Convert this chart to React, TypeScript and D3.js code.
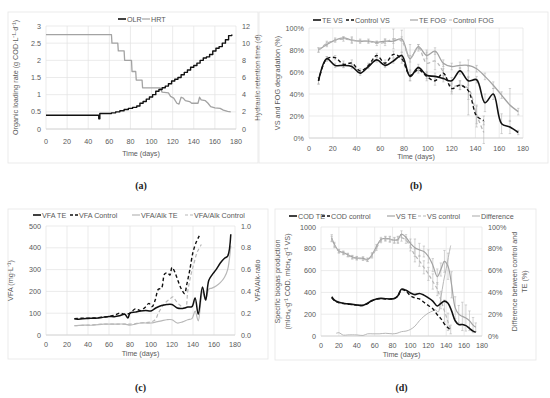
import * as d3 from 'd3';

// ---- data ----
// (a) OLR / HRT
const olrDays = [0, 50, 51, 62, 66, 70, 74, 78, 82, 86, 89, 92, 95, 98, 101, 104, 107, 110, 113, 116, 119, 122, 125, 128, 131, 134, 137, 140, 143, 146, 149, 152, 155, 158, 161, 164, 167, 170, 173, 176];
const olrValues = [0.4, 0.3, 0.45, 0.47, 0.5, 0.53, 0.57, 0.6, 0.63, 0.67, 0.75, 0.8, 0.87, 0.93, 1.0, 1.1, 1.15, 1.2, 1.25, 1.32, 1.4, 1.45, 1.5, 1.58, 1.65, 1.72, 1.8, 1.85, 1.92, 2.0, 2.07, 2.1, 2.17, 2.27, 2.35, 2.4, 2.5, 2.6, 2.72, 2.75];
const hrtDays = [0, 62, 62.5, 68, 68.5, 74, 74.5, 81, 81.5, 85, 85.5, 91, 91.5, 108, 110, 116, 118, 121, 124, 126, 128, 130, 132, 136, 138, 144, 145.5, 147, 151, 153.5, 156, 160, 165, 168, 172, 175];
const hrtValues = [11, 11, 10, 10, 9.1, 9.1, 8, 8, 6.7, 6.7, 5.7, 5.7, 4.8, 4.8, 4.3, 4.2, 3.8, 3.6, 3.0, 2.9, 3.7, 3.6, 3.3, 3.2, 3.0, 3.0, 3.7, 3.4, 3.3, 3.0, 2.6, 2.45, 2.4, 2.2, 2.05, 2.0];
const aLeftTicks = [0, 0.5, 1, 1.5, 2, 2.5, 3];
const aRightTicks = [0, 2, 4, 6, 8, 10, 12];

// (b) degradation
const bDays = [8, 15, 22, 29, 36, 43, 50, 57, 64, 71, 78, 85, 92, 99, 106, 113, 120, 127, 134, 141, 148, 155, 162, 169, 176];
const teVS = [52, 72, 66, 66, 65, 59, 65, 71, 66, 70, 75, 56, 64, 57, 56, 54, 52, 61, 52, 53, 32, 40, 13, 10, 5];
const teVSErr = [3, 2, 2, 2, 2, 2, 2, 2, 2, 2, 3, 4, 3, 3, 3, 3, 3, 3, 4, 3, 8, 5, 9, 6, 2];
const teFOG = [80, 85, 89, 91, 89, 88, 88, 87, 88, 88, 90, 72, 83, 75, 79, 68, 65, 66, 66, 63, 56, 48, 39, 30, 24];
const teFOGErr = [2, 2, 1, 1, 2, 1, 1, 1, 2, 2, 2, 3, 2, 3, 3, 3, 3, 3, 5, 3, 3, 3, 3, 15, 3];
const bCtrlDays = [8, 15, 22, 29, 36, 43, 50, 57, 64, 71, 78, 85, 92, 99, 106, 113, 120, 127, 134, 141, 147];
const ctrlVS = [52, 72, 73, 67, 68, 61, 66, 75, 68, 76, 72, 57, 62, 56, 52, 59, 45, 48, 43, 20, 16];
const ctrlVSErr = [3, 2, 2, 3, 3, 2, 2, 2, 3, 3, 4, 5, 3, 4, 4, 4, 5, 4, 22, 10, 4];
const ctrlFOG = [80, 86, 89, 90, 89, 88, 88, 86, 87, 90, 88, 73, 82, 68, 70, 60, 47, 48, 45, 21, 5];
const ctrlFOGErr = [2, 2, 2, 2, 3, 2, 2, 2, 3, 9, 10, 12, 3, 12, 8, 7, 5, 4, 10, 8, 10];
const bTicks = [0, 20, 40, 60, 80, 100];

// (c) VFA
const vfaTEDays = [27, 30, 35, 40, 45, 50, 55, 60, 65, 70, 75, 78, 80, 85, 90, 95, 100, 105, 110, 115, 120, 125, 130, 135, 139, 142, 145, 149, 152, 155, 158, 162, 166, 170, 173, 176];
const vfaTE = [74, 72, 75, 76, 77, 78, 82, 85, 84, 88, 95, 78, 100, 105, 110, 112, 110, 125, 135, 140, 140, 124, 122, 128, 130, 170, 95, 220, 160, 250, 275, 300, 330, 352, 362, 462];
const vfaCtrlDays = [27, 35, 45, 55, 60, 65, 70, 75, 80, 85, 90, 95, 98, 101, 104, 107, 110, 113, 116, 118, 120, 123, 126, 129, 132, 134, 137, 140, 143, 146];
const vfaCtrl = [75, 77, 78, 82, 85, 90, 100, 95, 100, 120, 112, 130, 145, 130, 160, 210, 215, 280, 285, 275, 310, 285, 245, 210, 190, 230, 300, 380, 425, 455];
const ratioTEDays = [27, 35, 45, 55, 65, 75, 80, 85, 90, 95, 100, 105, 110, 115, 120, 125, 130, 135, 139, 142, 145, 149, 152, 155, 158, 162, 166, 170, 173, 176];
const ratioTE = [0.085, 0.09, 0.09, 0.1, 0.1, 0.1, 0.09, 0.1, 0.11, 0.11, 0.11, 0.12, 0.13, 0.14, 0.14, 0.11, 0.12, 0.14, 0.15, 0.22, 0.13, 0.4, 0.32, 0.42, 0.43, 0.45, 0.48, 0.53, 0.6, 0.82];
const ratioCtrlDays = [27, 40, 55, 70, 80, 90, 100, 104, 107, 110, 114, 118, 121, 124, 128, 131, 133, 135, 138, 141, 144, 148];
const ratioCtrl = [0.085, 0.09, 0.1, 0.1, 0.1, 0.11, 0.12, 0.14, 0.2, 0.25, 0.3, 0.33, 0.35, 0.31, 0.27, 0.25, 0.25, 0.4, 0.55, 0.66, 0.76, 0.83];
const cLeftTicks = [0, 100, 200, 300, 400, 500];
const cRightTicks = [0, 0.2, 0.4, 0.6, 0.8, 1.0];

// (d) biogas
const dDays = [12, 15, 20, 25, 30, 35, 40, 47, 52, 57, 62, 67, 72, 77, 82, 86, 90, 95, 100, 105, 110, 115, 120, 125, 130, 134, 138, 142, 146, 150, 154, 158, 162, 166, 170, 173];
const codTE = [360, 330, 310, 300, 295, 290, 285, 282, 300, 325, 340, 345, 342, 340, 345, 370, 430, 420, 395, 380, 390, 375, 350, 320, 275, 300, 320, 300, 230, 140, 105, 105, 95, 70, 45, 35];
const vsTE = [900, 840, 780, 765, 745, 725, 715, 712, 700, 745, 820, 885, 895, 890, 880, 885, 935, 905, 850, 810, 790, 775, 730, 650, 545, 610, 685, 640, 470, 260, 200, 180, 165, 140, 100, 80];
const vsTEErr = [30, 20, 15, 15, 15, 15, 15, 15, 15, 20, 20, 20, 20, 25, 25, 30, 30, 25, 40, 80, 60, 50, 60, 60, 70, 60, 100, 120, 120, 100, 80, 130, 120, 90, 70, 40];
const dCtrlDays = [12, 15, 20, 25, 30, 35, 40, 47, 52, 57, 62, 67, 72, 77, 82, 86, 90, 95, 100, 105, 110, 115, 120, 125, 130, 134, 138, 142, 145];
const codCtrl = [350, 325, 305, 298, 292, 288, 283, 280, 298, 322, 338, 343, 340, 338, 343, 365, 425, 410, 370, 350, 340, 310, 280, 250, 195, 160, 110, 75, 55];
const vsCtrl = [890, 830, 775, 760, 740, 720, 712, 708, 698, 735, 805, 875, 890, 885, 875, 880, 900, 880, 820, 740, 690, 630, 570, 500, 430, 330, 230, 130, 60];
const vsCtrlErr = [25, 20, 15, 15, 15, 15, 15, 15, 15, 20, 20, 20, 20, 25, 25, 30, 30, 30, 40, 60, 50, 60, 60, 70, 60, 80, 100, 80, 40];
const diffDays = [17, 20, 25, 30, 40, 47, 52, 58, 65, 72, 80, 85, 90, 95, 100, 105, 110, 115, 120, 125, 128, 131, 134, 137, 140, 143, 145];
const diffValues = [2.5, 3, 0.8, 1, 1, 0.5, 2, 2, 2, 2.5, 2, 2.5, 4, 4.5, 6, 9, 14, 18, 21, 23, 24, 22, 35, 50, 62, 75, 83];
const dLeftTicks = [0, 200, 400, 600, 800, 1000];
const dRightTicks = [0, 20, 40, 60, 80, 100];

const dayTicks = [0, 20, 40, 60, 80, 100, 120, 140, 160, 180];

// ---- styling ----
const FONT = "'Liberation Sans Narrow', 'Arial Narrow', 'Liberation Sans', sans-serif";
const TEXT = '#595959';
const GRID = '#e3e3e3';
const BLACK = '#111';
const GREY = '#a3a3a3';
const LIGHT = '#b8b8b8';
const FS = 7.2;

type Series = {
  days: number[];
  values: number[];
  color: string;
  dash?: string;
  width: number;
  right?: boolean;
  err?: number[];
  curve?: d3.CurveFactory;
};

type LegendItem = { label: string; color: string; dash?: string; x: number };

type PanelProps = {
  box: { x: number; y: number; w: number; h: number };
  plot: { left: number; right: number; top: number; bottom: number };
  leftDomain: [number, number];
  leftTicks: number[];
  leftFmt: (v: number) => string;
  rightDomain?: [number, number];
  rightTicks?: number[];
  rightFmt?: (v: number) => string;
  series: Series[];
  legendY: number;
  legend: LegendItem[];
  leftTitle: { x: number; text: string }[];
  rightTitle?: { x: number; text: string }[];
  xTitleY: number;
  tickY: number;
  tag: string;
  tagY: number;
};

const Panel = (p: PanelProps) => {
  const x = d3.scaleLinear().domain([0, 180]).range([p.plot.left, p.plot.right]);
  const yL = d3.scaleLinear().domain(p.leftDomain).range([p.plot.bottom, p.plot.top]);
  const yR = p.rightDomain
    ? d3.scaleLinear().domain(p.rightDomain).range([p.plot.bottom, p.plot.top])
    : yL;
  const midY = (p.plot.top + p.plot.bottom) / 2;
  const midX = (p.plot.left + p.plot.right) / 2;

  return (
    <g fontFamily={FONT} fill={TEXT}>
      <rect x={p.box.x} y={p.box.y} width={p.box.w} height={p.box.h} fill="none" stroke="#e6e6e6" strokeWidth={0.8} />
      {/* gridlines */}
      {dayTicks.map((t) => (
        <line key={'vx' + t} x1={x(t)} x2={x(t)} y1={p.plot.top} y2={p.plot.bottom} stroke={GRID} strokeWidth={0.7} />
      ))}
      {p.leftTicks.map((t) => (
        <line key={'hy' + t} x1={p.plot.left} x2={p.plot.right} y1={yL(t)} y2={yL(t)} stroke={GRID} strokeWidth={0.7} />
      ))}
      <line x1={p.plot.left} x2={p.plot.right} y1={p.plot.bottom} y2={p.plot.bottom} stroke="#d0d0d0" strokeWidth={0.8} />
      {/* tick labels */}
      {dayTicks.map((t) => (
        <text key={'tx' + t} x={x(t)} y={p.tickY} fontSize={FS} textAnchor="middle">{t}</text>
      ))}
      {p.leftTicks.map((t) => (
        <text key={'ty' + t} x={p.plot.left - 5} y={yL(t) + 2.5} fontSize={FS} textAnchor="end">{p.leftFmt(t)}</text>
      ))}
      {p.rightTicks && p.rightFmt &&
        p.rightTicks.map((t) => (
          <text key={'tr' + t} x={p.plot.right + 6} y={yR(t) + 2.5} fontSize={FS} textAnchor="start">{p.rightFmt!(t)}</text>
        ))}
      {/* axis titles */}
      <text x={midX} y={p.xTitleY} fontSize={FS} textAnchor="middle">Time (days)</text>
      {p.leftTitle.map((t, i) => (
        <text key={'lt' + i} transform={`translate(${t.x},${midY}) rotate(-90)`} fontSize={FS} textAnchor="middle">{t.text}</text>
      ))}
      {p.rightTitle &&
        p.rightTitle.map((t, i) => (
          <text key={'rt' + i} transform={`translate(${t.x},${midY}) rotate(-90)`} fontSize={FS} textAnchor="middle">{t.text}</text>
        ))}
      {/* error bars */}
      {p.series.map((s, si) =>
        s.err
          ? s.values.map((v, i) => {
              const e = s.err![i];
              const ys = s.right ? yR : yL;
              const cx = x(s.days[i]);
              return (
                <g key={'e' + si + '-' + i} stroke="#b5b5b5" strokeWidth={0.6}>
                  <line x1={cx} x2={cx} y1={ys(v - e)} y2={ys(v + e)} />
                  <line x1={cx - 1.2} x2={cx + 1.2} y1={ys(v - e)} y2={ys(v - e)} />
                  <line x1={cx - 1.2} x2={cx + 1.2} y1={ys(v + e)} y2={ys(v + e)} />
                </g>
              );
            })
          : null
      )}
      {/* lines */}
      {p.series.map((s, si) => {
        const ys = s.right ? yR : yL;
        const gen = d3
          .line<number>()
          .x((_, i) => x(s.days[i]))
          .y((v) => ys(v))
          .curve(s.curve ?? d3.curveCatmullRom.alpha(0.5));
        return (
          <path key={'s' + si} d={gen(s.values) ?? ''} fill="none" stroke={s.color} strokeWidth={s.width} strokeDasharray={s.dash} strokeLinejoin="round" />
        );
      })}
      {/* legend */}
      {p.legend.map((l) => (
        <g key={l.label}>
          <line x1={l.x} x2={l.x + 8} y1={p.legendY} y2={p.legendY} stroke={l.color} strokeWidth={l.color === BLACK ? 1.6 : 1.2} strokeDasharray={l.dash} />
          <text x={l.x + 9} y={p.legendY + 2.5} fontSize={FS}>{l.label}</text>
        </g>
      ))}
      <text x={midX} y={p.tagY} fontSize={10} fontWeight="bold" textAnchor="middle" fontFamily="'Liberation Serif', serif" fill="#222">{p.tag}</text>
    </g>
  );
};

const pctInt = (v: number) => `${v}%`;
const plain = (v: number) => String(v);

export default function App() {
  const DASH = '3.5,2.5';
  return (
    <div style={{ position: 'absolute', left: 0, top: 0, background: '#fff' }}>
      <svg width={550} height={398} style={{ display: 'block' }}>
        <rect width={550} height={398} fill="#fff" />
        <Panel
          box={{ x: 8, y: 12, w: 250, h: 151 }}
          plot={{ left: 46, right: 236, top: 26, bottom: 129 }}
          leftDomain={[0, 3]}
          leftTicks={aLeftTicks}
          leftFmt={plain}
          rightDomain={[0, 12]}
          rightTicks={aRightTicks}
          rightFmt={plain}
          series={[
            { days: hrtDays, values: hrtValues, color: GREY, width: 1.3, right: true, curve: d3.curveLinear },
            { days: olrDays, values: olrValues, color: BLACK, width: 1.4, curve: d3.curveStepAfter },
          ]}
          legendY={19}
          legend={[
            { label: 'OLR', color: BLACK, x: 118 },
            { label: 'HRT', color: GREY, x: 142 },
          ]}
          leftTitle={[{ x: 18, text: 'Organic loading rate (g COD·L⁻¹·d⁻¹)' }]}
          rightTitle={[{ x: 260, text: 'Hydraulic retention time (d)' }]}
          tickY={144}
          xTitleY={156}
          tag="(a)"
          tagY={189}
        />
        <Panel
          box={{ x: 259, y: 12, w: 289, h: 151 }}
          plot={{ left: 309, right: 523, top: 28, bottom: 138 }}
          leftDomain={[0, 100]}
          leftTicks={bTicks}
          leftFmt={pctInt}
          series={[
            { days: bDays, values: teFOG, color: GREY, width: 1.3, err: teFOGErr },
            { days: bCtrlDays, values: ctrlFOG, color: LIGHT, width: 1.3, dash: DASH, err: ctrlFOGErr },
            { days: bDays, values: teVS, color: BLACK, width: 1.6, err: teVSErr },
            { days: bCtrlDays, values: ctrlVS, color: BLACK, width: 1.4, dash: DASH, err: ctrlVSErr },
          ]}
          legendY={20}
          legend={[
            { label: 'TE VS', color: BLACK, x: 313 },
            { label: 'Control VS', color: BLACK, dash: '3,2', x: 346 },
            { label: 'TE FOG', color: GREY, x: 410 },
            { label: 'Control FOG', color: LIGHT, dash: '3,2', x: 444 },
          ]}
          leftTitle={[{ x: 280, text: 'VS and FOG degradation (%)' }]}
          tickY={151}
          xTitleY={159}
          tag="(b)"
          tagY={189}
        />
        <Panel
          box={{ x: 8, y: 209, w: 260, h: 150 }}
          plot={{ left: 46, right: 235, top: 226, bottom: 335 }}
          leftDomain={[0, 500]}
          leftTicks={cLeftTicks}
          leftFmt={plain}
          rightDomain={[0, 1]}
          rightTicks={cRightTicks}
          rightFmt={d3.format('.1f')}
          series={[
            { days: ratioTEDays, values: ratioTE, color: LIGHT, width: 1.2, right: true },
            { days: ratioCtrlDays, values: ratioCtrl, color: LIGHT, width: 1.2, dash: DASH, right: true },
            { days: vfaTEDays, values: vfaTE, color: BLACK, width: 1.5 },
            { days: vfaCtrlDays, values: vfaCtrl, color: BLACK, width: 1.4, dash: DASH },
          ]}
          legendY={215}
          legend={[
            { label: 'VFA TE', color: BLACK, x: 33 },
            { label: 'VFA Control', color: BLACK, dash: '3,2', x: 70 },
            { label: 'VFA/Alk TE', color: LIGHT, x: 132 },
            { label: 'VFA/Alk Control', color: LIGHT, dash: '3,2', x: 185 },
          ]}
          leftTitle={[{ x: 13, text: 'VFA (mg·L⁻¹)' }]}
          rightTitle={[{ x: 260, text: 'VFA/Alk-ratio' }]}
          tickY={347}
          xTitleY={356}
          tag="(c)"
          tagY={391}
        />
        <Panel
          box={{ x: 275, y: 209, w: 261, h: 151 }}
          plot={{ left: 321, right: 482, top: 227, bottom: 336 }}
          leftDomain={[0, 1000]}
          leftTicks={dLeftTicks}
          leftFmt={plain}
          rightDomain={[0, 100]}
          rightTicks={dRightTicks}
          rightFmt={pctInt}
          series={[
            { days: diffDays, values: diffValues, color: LIGHT, width: 1.0, right: true },
            { days: dDays, values: vsTE, color: GREY, width: 1.2, err: vsTEErr },
            { days: dCtrlDays, values: vsCtrl, color: LIGHT, width: 1.2, dash: DASH, err: vsCtrlErr },
            { days: dDays, values: codTE, color: BLACK, width: 1.6 },
            { days: dCtrlDays, values: codCtrl, color: BLACK, width: 1.4, dash: DASH },
          ]}
          legendY={216}
          legend={[
            { label: 'COD TE', color: BLACK, x: 289 },
            { label: 'COD control', color: BLACK, dash: '3,2', x: 322 },
            { label: 'VS TE', color: GREY, x: 387 },
            { label: 'VS control', color: LIGHT, dash: '3,2', x: 418 },
            { label: 'Difference', color: LIGHT, x: 472 },
          ]}
          leftTitle={[
            { x: 280, text: 'Specific biogas production' },
            { x: 290, text: '(ml\u1D04\u029C₄·g⁻¹ COD, ml\u1D04\u029C₄·g⁻¹ VS)' },
          ]}
          rightTitle={[
            { x: 517, text: 'Difference between control and' },
            { x: 527, text: 'TE (%)' },
          ]}
          tickY={348}
          xTitleY={357}
          tag="(d)"
          tagY={391}
        />
      </svg>
    </div>
  );
}
